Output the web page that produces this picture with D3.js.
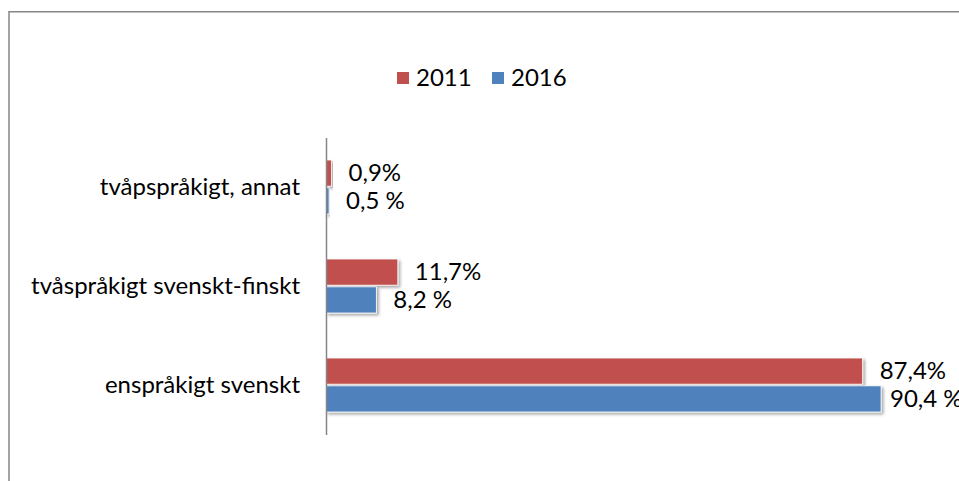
<!DOCTYPE html>
<html><head><meta charset="utf-8">
<script src="https://cdn.jsdelivr.net/npm/d3@7"></script>
<style>body{margin:0;background:#fff}svg{display:block}</style>
</head><body>
<script>
const categories = ["tvåpspråkigt, annat", "tvåspråkigt svenskt-finskt", "enspråkigt svenskt"];
const seriesNames = ["2011", "2016"];
const values2011 = [0.9, 11.7, 87.4];
const values2016 = [0.5, 8.2, 90.4];
const labels2011 = ["0,9%", "11,7%", "87,4%"];
const labels2016 = ["0,5 %", "8,2 %", "90,4 %"];
const colors = ["#C0504D", "#4F81BD"];

const W = 959, H = 481;
const FONT = "Lato, 'Noto Sans', sans-serif";
const FS = 24;
const svg = d3.select("body").append("svg").attr("width", W).attr("height", H);
const defs = svg.append("defs");
const f = defs.append("filter").attr("id", "sh").attr("x", "-5%").attr("y", "-30%").attr("width", "120%").attr("height", "180%");
f.append("feDropShadow").attr("dx", 2).attr("dy", 2).attr("stdDeviation", 1.5).attr("flood-color", "#000").attr("flood-opacity", 0.35);

svg.append("rect").attr("x", 9).attr("y", 11.75).attr("width", 1000).attr("height", 600)
  .attr("fill", "#fff").attr("stroke", "#868686").attr("stroke-width", 1.5);

const x = d3.scaleLinear().domain([0, 100]).range([326, 940]);
const y = d3.scaleBand().domain(categories).range([137.5, 434.5]);
const sub = d3.scaleBand().domain(seriesNames).range([0, 54]).paddingInner(0.06);

const data = categories.map((c, i) => ({c, vals: [
  {s: "2011", v: values2011[i], l: labels2011[i], col: colors[0]},
  {s: "2016", v: values2016[i], l: labels2016[i], col: colors[1]}
]}));

const g = svg.append("g");
const grp = g.selectAll("g.cat").data(data).join("g")
  .attr("transform", d => `translate(0,${y(d.c) + y.bandwidth()/2 - 27})`);
grp.selectAll("rect").data(d => d.vals).join("rect")
  .attr("x", x(0)).attr("y", d => sub(d.s)).attr("height", sub.bandwidth())
  .attr("width", d => x(d.v) - x(0)).attr("fill", d => d.col)
  .attr("stroke", "#fff").attr("stroke-width", 0.8)
  .attr("filter", "url(#sh)");
grp.selectAll("text").data(d => d.vals).join("text")
  .attr("x", d => Math.min(x(d.v) + 17, 890))
  .attr("y", d => sub(d.s) + sub.bandwidth()/2)
  .attr("dy", "0.35em").attr("font-family", FONT).attr("font-size", FS).attr("fill", "#000")
  .text(d => d.l);

const yAxis = d3.axisLeft(y).tickSize(0).tickPadding(26);
const ya = svg.append("g").attr("transform", `translate(${x(0)},0)`).call(yAxis);
ya.select(".domain").attr("stroke", "#868686").attr("stroke-width", 1.5);
ya.selectAll("text").attr("font-family", FONT).attr("font-size", FS).attr("fill", "#000");

// legend
const leg = svg.append("g").attr("transform", "translate(397,78)");
const li = leg.selectAll("g").data(seriesNames).join("g").attr("transform", (d, i) => `translate(${i*95},0)`);
li.append("rect").attr("x", 0).attr("y", -6).attr("width", 12).attr("height", 12).attr("fill", (d, i) => colors[i]);
li.append("text").attr("x", 19).attr("dy", "0.35em").attr("font-family", FONT).attr("font-size", FS).text(d => d);
</script>
</body></html>
